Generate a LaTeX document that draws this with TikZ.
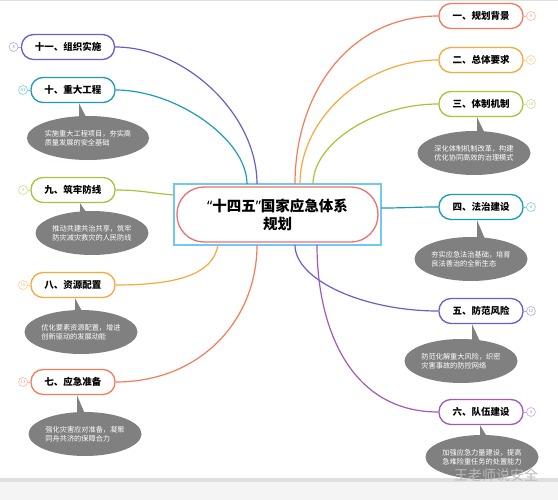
\documentclass[tikz,border=0pt]{standalone}
\usepackage{fontspec}
\newfontfamily\cjk{Noto Sans CJK SC}
\newfontfamily\latin{Noto Sans}
\usetikzlibrary{shapes.geometric,positioning,calc}
\definecolor{brred}{HTML}{F47C5A}
\definecolor{brorange}{HTML}{F9A83C}
\definecolor{brgreen}{HTML}{A9C23A}
\definecolor{brteal}{HTML}{1A9CB8}
\definecolor{brblue}{HTML}{6A5ECA}
\definecolor{brviolet}{HTML}{A05BB8}
\definecolor{titlered}{HTML}{EE6E73}
\definecolor{framesky}{HTML}{71C9F2}
\definecolor{callgray}{HTML}{808080}
\definecolor{barline}{HTML}{DEDEDE}
\definecolor{barfill}{HTML}{F4F4F4}
\tikzset{
  branch/.style={rectangle,draw=#1,fill=white,line width=1.3pt,
    rounded corners=12pt,minimum width=84pt,minimum height=25pt,
    inner sep=2pt,font=\cjk\bfseries\fontsize{9.5}{11}\selectfont},
  numdot/.style={circle,draw=#1!55,text=#1!75,fill=white,line width=0.6pt,
    minimum size=9pt,inner sep=0pt,font=\sffamily\fontsize{4.5}{5}\selectfont},
  callout/.style={ellipse,fill=callgray,text=white,minimum width=113pt,
    minimum height=44pt,inner sep=0pt,align=left,
    font=\cjk\fontsize{7.2}{9}\selectfont},
  link/.style={line width=1.2pt,draw=#1}
}

\begin{document}
\begin{tikzpicture}[x=1pt,y=-1pt,node distance=2.5pt]
  \useasboundingbox (0,0) rectangle (558,500);
  \fill[white] (0,0) rectangle (558,500);
  \draw[gray!25] (0,0.5) -- (558,0.5);
  \fill[barline] (0,478) rectangle (558,482);
  \fill[barfill] (0,482) rectangle (558,500);

  % centre
  \node[rectangle,draw=framesky,line width=1.2pt,minimum width=207pt,
        minimum height=61pt] (frame) at (277.5,214.5) {};
  \node[rectangle,draw=titlered,fill=white,line width=1.3pt,rounded corners=27pt,
        minimum width=201pt,minimum height=55pt,align=center,
        font=\cjk\bfseries\fontsize{14.5}{18}\selectfont] (title) at (277.5,214.5)
        {{\latin\bfseries “}十四五{\latin\bfseries ”}国家应急体系\\规划};

  % right branches
  \node[branch=brred]    (n1) at (481,16)  {一、规划背景};
  \node[branch=brorange] (n2) at (481,60)  {二、总体要求};
  \node[branch=brgreen]  (n3) at (481,104) {三、体制机制};
  \node[branch=brteal]   (n4) at (481,207) {四、法治建设};
  \node[branch=brblue]   (n5) at (481,311) {五、防范风险};
  \node[branch=brviolet] (n6) at (481,412) {六、队伍建设};

  % left branches
  \node[branch=brred]    (n7)  at (73,382) {七、应急准备};
  \node[branch=brorange] (n8)  at (73,285) {八、资源配置};
  \node[branch=brgreen]  (n9)  at (73,190) {九、筑牢防线};
  \node[branch=brteal]   (n10) at (73,90)  {十、重大工程};
  \node[branch=brblue,minimum width=93pt] (n11) at (68,47) {十一、组织实施};

  % counters
  \foreach \n/\c/\v in {1/brred/9,2/brorange/31,3/brgreen/10,
                        4/brteal/4,5/brblue/12,6/brviolet/4}{
    \node[numdot=\c,right=of n\n] (d\n) {\v};
    \draw[\c!55,line width=0.6pt] (n\n.east) -- (d\n);
  }
  \foreach \n/\c/\v in {7/brred/13,8/brorange/15,9/brgreen/3,
                        10/brteal/41,11/brblue/3}{
    \node[numdot=\c,left=of n\n] (d\n) {\v};
    \draw[\c!55,line width=0.6pt] (n\n.west) -- (d\n);
  }

  % callouts
  \node[callout] (c3)  at (474,153) {深化体制机制改革，构建\\优化协同高效的治理模式};
  \node[callout] (c4)  at (471,259) {夯实应急法治基础，培育\\良法善治的全新生态};
  \node[callout] (c5)  at (461,361) {防范化解重大风险，织密\\灾害事故的防控网络};
  \node[callout] (c6)  at (482,457) {加强应急力量建设，提高\\急难险重任务的处置能力};
  \node[callout] (c7)  at (85,434)  {强化灾害应对准备，凝聚\\同舟共济的保障合力};
  \node[callout] (c8)  at (81,332)  {优化要素资源配置，增进\\创新驱动的发展动能};
  \node[callout] (c9)  at (92,233)  {推动共建共治共享，筑牢\\防灾减灾救灾的人民防线};
  \node[callout] (c10) at (88,138)  {实施重大工程项目，夯实高\\质量发展的安全基础};
  \foreach \n/\dx in {3/-4,4/-4,5/-9,6/-1,7/4,8/2,9/7,10/6}
    \fill[callgray] ($(n\n.south)+(\dx,0)$) coordinate (p)
      -- ([yshift=-7pt]p |- c\n.north) -- ([xshift=10pt,yshift=-7pt]p |- c\n.north) -- cycle;

  % connectors
  \coordinate (t11) at (257,184);
  \coordinate (t10) at (247,184);
  \coordinate (t1)  at (295,184);
  \coordinate (t2)  at (300,184);
  \coordinate (t3)  at (313,184);
  \coordinate (l9)  at (174,195);
  \coordinate (r4)  at (381,208);
  \coordinate (b8)  at (218,245);
  \coordinate (b7)  at (257,245);
  \coordinate (b5)  at (295,245);
  \coordinate (b6)  at (317,245);
  \draw[link=brblue]   (n11.east) .. controls +(70,0) and +(0,-70) .. (t11);
  \draw[link=brteal]   (n10.east) .. controls +(60,0) and +(0,-45) .. (t10);
  \draw[link=brgreen]  (n9.east)  .. controls +(25,0) and +(-25,-2) .. (l9);
  \draw[link=brorange] (n8.east)  .. controls +(60,0) and +(-5,30) .. (b8);
  \draw[link=brred]    (n7.east)  .. controls +(85,0) and +(0,75) .. (b7);
  \draw[link=brred]    (n1.west)  .. controls +(-90,0) and +(0,-90) .. (t1);
  \draw[link=brorange] (n2.west)  .. controls +(-75,0) and +(0,-65) .. (t2);
  \draw[link=brgreen]  (n3.west)  .. controls +(-65,0) and +(0,-40) .. (t3);
  \draw[link=brteal]   (n4.west)  .. controls +(-25,0) and +(25,0) .. (r4);
  \draw[link=brblue]   (n5.west)  .. controls +(-75,0) and +(0,35) .. (b5);
  \draw[link=brviolet] (n6.west)  .. controls +(-90,0) and +(0,80) .. (b6);

  % watermark
  \node[font=\cjk\fontsize{14}{14}\selectfont,text=gray!55] (mark) at (496,475) {王老师说安全};
\end{tikzpicture}
\end{document}
